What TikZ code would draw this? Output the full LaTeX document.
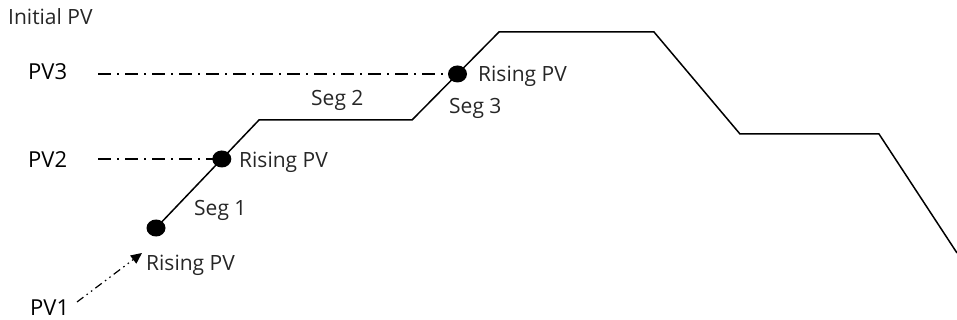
\documentclass[tikz,border=0pt]{standalone}
\usepackage{fontspec}
\setmainfont{Open Sans}
\usetikzlibrary{arrows.meta,calc,shapes.geometric}
\begin{document}
\begin{tikzpicture}[x=1pt,y=-1pt,
  prof/.style={line width=1.5pt,line join=miter},
  dashdot/.style={line width=1.2pt,dash pattern=on 13pt off 6pt on 2pt off 6pt},
  dashdotdot/.style={line width=1.2pt,dash pattern=on 8pt off 4pt on 1.5pt off 4pt on 1.5pt off 4pt},
  dot/.style={ellipse,fill=black,inner sep=0pt,minimum width=19pt,minimum height=17pt},
  lbl/.style={inner sep=0pt,anchor=base west,text=black!85,font=\fontsize{21}{25}\selectfont},
  pvl/.style={inner sep=0pt,anchor=base west,text=black,font=\fontsize{22}{26}\selectfont}]
\useasboundingbox (0,0) rectangle (957,320);
\coordinate (s0) at (156,228);
\coordinate (c1) at (259,120);
\coordinate (c2) at (412,120);
\coordinate (c3) at (499,32);
\coordinate (c4) at (654,32);
\coordinate (c5) at (740,134);
\coordinate (c6) at (879,134);
\coordinate (c7) at (957,253);
\draw[prof] (s0) -- (c1) -- (c2) -- (c3) -- (c4) -- (c5) -- (c6) -- (c7);
\node[dot] (d1) at (s0) {};
\node[dot] (d2) at ($(s0)!0.639!(c1)$) {};
\node[dot] (d3) at ($(c2)!0.523!(c3)$) {};
\node[lbl] (init) at (8,25) {Initial PV};
\node[pvl] (pv3) at (28,80) {PV3};
\node[pvl] (pv2) at (28,168) {PV2};
\node[pvl] (pv1) at (30,315) {PV1};
\coordinate (l3) at (98,0 |- d3);
\coordinate (l2) at (98,0 |- d2);
\draw[dashdot] (l3) -- (d3.center);
\draw[dashdot] (l2) -- (d2.center);
\node[lbl] (r2) at (239,168) {Rising PV};
\node[lbl] (r1) at (146,270) {Rising PV};
\node[lbl] (r3) at (478,82) {Rising PV};
\node[lbl] (sg1) at (194,215) {Seg 1};
\node[lbl] (sg2) at (311,106) {Seg 2};
\node[lbl] (sg3) at (449,114) {Seg 3};
\coordinate (a1) at (77,302);
\coordinate (a2) at (142,253);
\draw[dashdotdot,-{Triangle[length=11pt,width=10pt]}] (a1) -- (a2);
\end{tikzpicture}
\end{document}
